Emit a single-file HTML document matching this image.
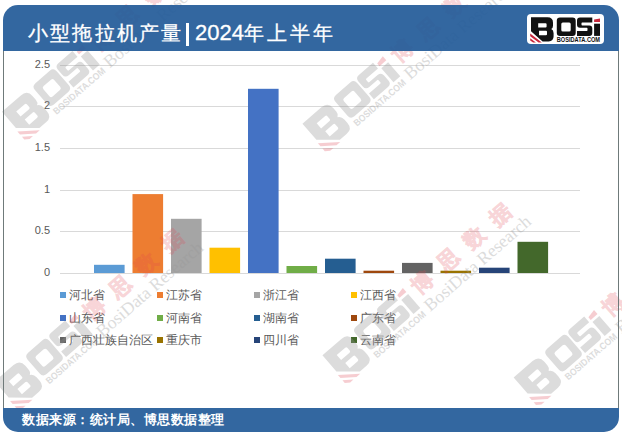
<!DOCTYPE html>
<html><head><meta charset="utf-8">
<style>
html,body{margin:0;padding:0;background:#fff;width:622px;height:437px;overflow:hidden;position:relative;font-family:"Liberation Sans",sans-serif}
.card{position:absolute;left:3px;top:5px;width:616px;height:427px;border-radius:15px;overflow:hidden}
.hdr{position:absolute;left:0;top:0;width:616px;height:46px;background:rgba(34,90,152,0.92)}
.ftr{position:absolute;left:0;top:403px;width:616px;height:24px;background:rgba(34,90,152,0.92)}
.bl{position:absolute;top:51px;height:357px;width:1px;background:#6f7a7a}
.title{position:absolute;top:20px;-webkit-text-stroke:0.3px #fff;font-size:22px;color:#fff;white-space:nowrap;line-height:26px}
.src{position:absolute;left:22px;top:412px;font-size:13px;letter-spacing:0.5px;color:#fff;font-weight:bold;white-space:nowrap;line-height:16px}
.gl{position:absolute;left:60px;width:520px;height:1px;background:#d9d9d9}
.yl{position:absolute;left:0;width:50px;text-align:right;font-size:11px;line-height:14px;color:#595959}
.lsq{position:absolute;width:6px;height:6px}
.lt{position:absolute;font-size:12px;line-height:16px;color:#595959;white-space:nowrap}
.logo{position:absolute;left:527px;top:14px;width:77px;height:30px;background:#fff;border-radius:4px}
svg{position:absolute;left:0;top:0}
</style></head><body>
<div class="gl" style="top:65px"></div>
<div class="gl" style="top:106px"></div>
<div class="gl" style="top:148px"></div>
<div class="gl" style="top:190px"></div>
<div class="gl" style="top:231px"></div>
<div class="gl" style="top:273px"></div>
<div class="yl" style="top:57px">2.5</div>
<div class="yl" style="top:98px">2</div>
<div class="yl" style="top:140px">1.5</div>
<div class="yl" style="top:182px">1</div>
<div class="yl" style="top:223px">0.5</div>
<div class="yl" style="top:265px">0</div>
<div class="lsq" style="left:59.5px;top:292px;background:#5B9BD5"></div>
<div class="lt" style="left:68.5px;top:287px">河北省</div>
<div class="lsq" style="left:156.5px;top:292px;background:#ED7D31"></div>
<div class="lt" style="left:165.5px;top:287px">江苏省</div>
<div class="lsq" style="left:253.5px;top:292px;background:#A5A5A5"></div>
<div class="lt" style="left:262.5px;top:287px">浙江省</div>
<div class="lsq" style="left:350.5px;top:292px;background:#FFC000"></div>
<div class="lt" style="left:359.5px;top:287px">江西省</div>
<div class="lsq" style="left:59.5px;top:314.5px;background:#4472C4"></div>
<div class="lt" style="left:68.5px;top:309.5px">山东省</div>
<div class="lsq" style="left:156.5px;top:314.5px;background:#70AD47"></div>
<div class="lt" style="left:165.5px;top:309.5px">河南省</div>
<div class="lsq" style="left:253.5px;top:314.5px;background:#255E91"></div>
<div class="lt" style="left:262.5px;top:309.5px">湖南省</div>
<div class="lsq" style="left:350.5px;top:314.5px;background:#9E480E"></div>
<div class="lt" style="left:359.5px;top:309.5px">广东省</div>
<div class="lsq" style="left:59.5px;top:337px;background:#636363"></div>
<div class="lt" style="left:68.5px;top:332px">广西壮族自治区</div>
<div class="lsq" style="left:156.5px;top:337px;background:#997300"></div>
<div class="lt" style="left:165.5px;top:332px">重庆市</div>
<div class="lsq" style="left:253.5px;top:337px;background:#264478"></div>
<div class="lt" style="left:262.5px;top:332px">四川省</div>
<div class="lsq" style="left:350.5px;top:337px;background:#43682B"></div>
<div class="lt" style="left:359.5px;top:332px">云南省</div>
<svg width="622" height="437"><rect x="94" y="264.8" width="30.6" height="8.2" fill="#5B9BD5"/><rect x="132.5" y="194.1" width="30.6" height="78.9" fill="#ED7D31"/><rect x="171" y="218.8" width="30.6" height="54.2" fill="#A5A5A5"/><rect x="209.5" y="247.7" width="30.6" height="25.3" fill="#FFC000"/><rect x="248" y="88.8" width="30.6" height="184.2" fill="#4472C4"/><rect x="286.5" y="266.0" width="30.6" height="7.0" fill="#70AD47"/><rect x="325" y="258.7" width="30.6" height="14.3" fill="#255E91"/><rect x="363.5" y="270.7" width="30.6" height="2.3" fill="#9E480E"/><rect x="402" y="262.9" width="30.6" height="10.1" fill="#636363"/><rect x="440.5" y="270.7" width="30.6" height="2.3" fill="#997300"/><rect x="479" y="267.7" width="30.6" height="5.3" fill="#264478"/><rect x="517.5" y="241.8" width="30.6" height="31.2" fill="#43682B"/></svg>
<svg width="622" height="437" style="pointer-events:none"><defs>
<g id="bosiL">
<path fill-rule="evenodd" d="M4 3.2H20.5Q26 3.2 26 8.7V11.8Q26 14.2 24.2 15.1Q26.6 16.2 26.6 19.2V22.3Q26.6 27.4 21.6 27.4H15.6L4 17.2Z M11.2 9.2H18.6Q19.6 9.2 19.6 10.2V12.6Q19.6 13.6 18.6 13.6H11.2Z M12 16.8H19Q20 16.8 20 17.8V20.3Q20 21.3 19 21.3H12Z"/>
<path fill-rule="evenodd" d="M33 3.4H45.5Q48.7 3.4 48.7 6.6V18.7Q48.7 21.9 45.5 21.9H33Q29.8 21.9 29.8 18.7V6.6Q29.8 3.4 33 3.4Z M35.8 8.4H42.2Q43.7 8.4 43.7 9.9V15.9Q43.7 17.4 42.2 17.4H35.8Q34.3 17.4 34.3 15.9V9.9Q34.3 8.4 35.8 8.4Z"/>
<path fill-rule="evenodd" d="M53 3.4H65.3V8.4H55.2Q54.5 8.4 54.5 9.1V10.8Q54.5 11.5 55.2 11.5H62.3Q65.3 11.5 65.3 14.5V18.9Q65.3 21.9 62.3 21.9H50V17H59.8Q60.5 17 60.5 16.3V14.5Q60.5 13.8 59.8 13.8H53Q50 13.8 50 10.8V6.4Q50 3.4 53 3.4Z"/>
<rect x="67.1" y="9.7" width="5.9" height="12.2"/>
<text x="29.8" y="28.3" font-family="Liberation Sans" font-weight="bold" font-size="6.3" textLength="43.2" lengthAdjust="spacingAndGlyphs">BOSIDATA.COM</text>
</g>
<g id="bosiR">
<path d="M67.1 5.6L73 4.4V7.9H67.1Z"/>
<path d="M3.2 19.6L14.8 28.6H11.6L3.2 22.2Z M3.2 24.2L8.9 28.6H6.1L3.2 26.5Z"/>
</g>
</defs><g transform="translate(106,64) rotate(-41)">
<g transform="translate(-116.0,-37.0) scale(1.52)"><use href="#bosiL" fill="#969696" opacity="0.33"/><use href="#bosiR" fill="#e04050" opacity="0.26"/></g>
<text x="2.3" y="-14.4" font-family="Liberation Sans" font-weight="bold" font-size="21" fill="#e04650" stroke="#e04650" stroke-width="0.7" opacity="0.22" letter-spacing="13.6">博思数据</text>
<text x="0" y="5.8" font-family="Liberation Serif" font-size="17.7" fill="#969696" opacity="0.33">BosiData Research</text>
</g>
<g transform="translate(406.5,75.8) rotate(-41)">
<g transform="translate(-116.0,-37.0) scale(1.52)"><use href="#bosiL" fill="#969696" opacity="0.33"/><use href="#bosiR" fill="#e04050" opacity="0.26"/></g>
<text x="2.3" y="-14.4" font-family="Liberation Sans" font-weight="bold" font-size="21" fill="#e04650" stroke="#e04650" stroke-width="0.7" opacity="0.22" letter-spacing="13.6">博思数据</text>
<text x="0" y="5.8" font-family="Liberation Serif" font-size="17.7" fill="#969696" opacity="0.33">BosiData Research</text>
</g>
<g transform="translate(98.7,333.6) rotate(-41)">
<g transform="translate(-116.0,-37.0) scale(1.52)"><use href="#bosiL" fill="#969696" opacity="0.33"/><use href="#bosiR" fill="#e04050" opacity="0.26"/></g>
<text x="2.3" y="-14.4" font-family="Liberation Sans" font-weight="bold" font-size="21" fill="#e04650" stroke="#e04650" stroke-width="0.7" opacity="0.22" letter-spacing="13.6">博思数据</text>
<text x="0" y="5.8" font-family="Liberation Serif" font-size="17.7" fill="#969696" opacity="0.33">BosiData Research</text>
</g>
<g transform="translate(426.5,307.5) rotate(-41)">
<g transform="translate(-116.0,-37.0) scale(1.52)"><use href="#bosiL" fill="#969696" opacity="0.33"/><use href="#bosiR" fill="#e04050" opacity="0.26"/></g>
<text x="2.3" y="-14.4" font-family="Liberation Sans" font-weight="bold" font-size="21" fill="#e04650" stroke="#e04650" stroke-width="0.7" opacity="0.22" letter-spacing="13.6">博思数据</text>
<text x="0" y="5.8" font-family="Liberation Serif" font-size="17.7" fill="#969696" opacity="0.33">BosiData Research</text>
</g>
<g transform="translate(617.7,329.6) rotate(-41)">
<g transform="translate(-116.0,-37.0) scale(1.52)"><use href="#bosiL" fill="#969696" opacity="0.33"/><use href="#bosiR" fill="#e04050" opacity="0.26"/></g>
<text x="2.3" y="-14.4" font-family="Liberation Sans" font-weight="bold" font-size="21" fill="#e04650" stroke="#e04650" stroke-width="0.7" opacity="0.22" letter-spacing="13.6">博思数据</text>
<text x="0" y="5.8" font-family="Liberation Serif" font-size="17.7" fill="#969696" opacity="0.33">BosiData Research</text>
</g></svg>
<div class="card">
<div class="hdr"></div>
<div class="ftr"></div>
</div>
<div class="bl" style="left:3px"></div>
<div class="bl" style="left:618px"></div>
<div class="title" style="left:28px;font-size:20px;letter-spacing:2.2px">小型拖拉机产量</div><div style="position:absolute;left:186.4px;top:23px;width:2.2px;height:23px;background:#fff"></div><div class="title" style="left:195px;font-size:22px">2024</div><div class="title" style="left:243.5px;font-size:20px;letter-spacing:3.05px">年上半年</div>
<div class="logo"><svg width="77" height="30" viewBox="0 0 77 30"><use href="#bosiL" fill="#111"/><use href="#bosiR" fill="#c8283c"/></svg></div>
<div class="src">数据来源：统计局、博思数据整理</div>
</body></html>
